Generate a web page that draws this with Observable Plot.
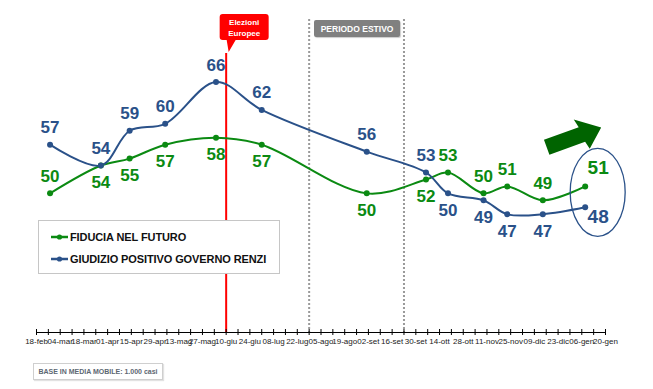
<!DOCTYPE html>
<html><head><meta charset="utf-8">
<script src="https://cdn.jsdelivr.net/npm/d3@7"></script>
<script src="https://cdn.jsdelivr.net/npm/@observablehq/plot@0.6"></script>
<style>
body{margin:0;background:#fff;font-family:"Liberation Sans",Arial,sans-serif;}
#wrap{position:relative;width:653px;height:389px;overflow:hidden;}
.legend{position:absolute;left:38px;top:220px;width:242px;height:54px;border:1px solid #c6c6c6;background:#fff;box-sizing:border-box;}
.legend .item{position:absolute;left:11px;height:14px;display:flex;align-items:center;font-weight:bold;font-size:11px;color:#111;white-space:nowrap;letter-spacing:-0.1px;}
.legend svg{margin-right:1px;}
.note{position:absolute;left:33px;top:363px;width:130px;height:17px;border:1px solid #cfcfcf;box-shadow:1px 1px 1px #e2e2e2;font-size:7px;font-weight:bold;color:#5d6772;display:flex;align-items:center;justify-content:center;box-sizing:border-box;white-space:nowrap;}
.estivo{position:absolute;top:20px;height:17px;background:#808080;border-radius:2px;color:#fff;font-weight:bold;font-size:8.5px;display:flex;align-items:center;justify-content:center;box-shadow:1px 1px 1px #ccc;white-space:nowrap;}
</style></head><body><div id="wrap"></div>
<script>
// ---- data ----
const dates = ["2014-02-26","2014-03-28","2014-04-14","2014-05-05","2014-06-04","2014-07-01","2014-09-01","2014-10-06","2014-10-19","2014-11-09","2014-11-23","2014-12-14","2015-01-08"];
const fiducia  = [50,54,55,57,58,57,50,52,53,50,51,49,51];
const giudizio = [57,54,59,60,66,62,56,53,50,49,47,47,48];
const seriesNames = ["FIDUCIA NEL FUTURO","GIUDIZIO POSITIVO GOVERNO RENZI"];
const tickDates = ["2014-02-18","2014-03-04","2014-03-18","2014-04-01","2014-04-15","2014-04-29","2014-05-13","2014-05-27","2014-06-10","2014-06-24","2014-07-08","2014-07-22","2014-08-05","2014-08-19","2014-09-02","2014-09-16","2014-09-30","2014-10-14","2014-10-28","2014-11-11","2014-11-25","2014-12-09","2014-12-23","2015-01-06","2015-01-20"];
const tickLabels = ["18-feb","04-mar","18-mar","01-apr","15-apr","29-apr","13-mag","27-mag","10-giu","24-giu","08-lug","22-lug","05-ago","19-ago","02-set","16-set","30-set","14-ott","28-ott","11-nov","25-nov","09-dic","23-dic","06-gen","20-gen"];
const electionDate = "2014-06-10";
const summerDates = ["2014-07-29","2014-09-23"];

// ---- build ----
const parse = d3.utcParse("%Y-%m-%d");
const GREEN = "#0b8a12", BLUE = "#2a5189";
const rows = [];
dates.forEach((d, i) => {
  rows.push({date: parse(d), value: fiducia[i], s: 0});
  rows.push({date: parse(d), value: giudizio[i], s: 1});
});
const last = dates.length - 1;
rows.forEach(r => {
  const i = dates.findIndex(d => +parse(d) === +r.date);
  const mine = r.s === 0 ? fiducia[i] : giudizio[i];
  const other = r.s === 0 ? giudizio[i] : fiducia[i];
  r.pos = i === last ? (r.s === 0 ? "lastUp" : "lastDown")
        : (i === 0 || mine > other || (mine === other && r.s === 1)) ? "above" : "below";
});
const tickMap = new Map(tickDates.map((d, i) => [+parse(d), tickLabels[i]]));
const t0 = parse(tickDates[0]), t1 = parse(tickDates[tickDates.length - 1]);
const weeks = d3.utcDay.range(t0, d3.utcDay.offset(t1, 1), 7);
const col = s => s === 0 ? GREEN : BLUE;
const labelStyle = {x: "date", y: "value", text: d => String(d.value), fill: d => col(d.s),
  fontSize: 17, fontWeight: "bold", fontFamily: "Liberation Sans", letterSpacing: "-0.5px"};

const plot = Plot.plot({
  width: 653, height: 389,
  marginLeft: 36, marginRight: 48, marginTop: 12, marginBottom: 57,
  style: {fontFamily: "Liberation Sans", fontSize: "8px", background: "transparent"},
  x: {type: "utc", domain: [t0, t1]},
  y: {domain: [30, 76], axis: null},
  color: {type: "identity"},
  marks: [
    Plot.ruleX(summerDates.map(parse), {x: d => d, stroke: "#9a9a9a", strokeWidth: 2, strokeDasharray: "2,2", insetTop: 7}),
    Plot.ruleX([parse(electionDate)], {x: d => d, stroke: "#ff0000", strokeWidth: 2, insetTop: 41}),
    Plot.ruleY([30], {stroke: "#000", strokeWidth: 1}),
    Plot.ruleX(weeks, {x: d => d, y1: 30, y2: 30, insetTop: -3, insetBottom: -3, stroke: "#000", strokeWidth: 1}),
    Plot.axisX({ticks: tickDates.map(parse), tickFormat: d => tickMap.get(+d), tickSize: 0, tickPadding: 6, fill: "#222", fontSize: 8, letterSpacing: "-0.35px"}),
    Plot.line(rows, {x: "date", y: "value", z: "s", stroke: d => col(d.s), strokeWidth: 2, curve: "catmull-rom"}),
    Plot.dot(rows, {x: "date", y: "value", r: 3, fill: d => col(d.s), stroke: "none"}),
    Plot.text(rows.filter(r => r.pos === "above"), {...labelStyle, dy: -17}),
    Plot.text(rows.filter(r => r.pos === "below"), {...labelStyle, dy: 17}),
    Plot.text(rows.filter(r => r.pos === "lastUp"), {...labelStyle, dx: 13, dy: -19, fontSize: 19}),
    Plot.text(rows.filter(r => r.pos === "lastDown"), {...labelStyle, dx: 13, dy: 10, fontSize: 19})
  ]
});
const wrap = document.getElementById("wrap");
wrap.appendChild(plot);

const xs = plot.scale("x"), ys = plot.scale("y");
const svg = d3.select(plot);

// election callout
const ex = xs.apply(parse(electionDate));
const L = ex - 6, R = ex + 43, T = 14, B = 40, r = 3;
svg.append("path")
  .attr("d", `M${L + r},${T} H${R - r} Q${R},${T} ${R},${T + r} V${B - r} Q${R},${B} ${R - r},${B} H${ex + 10} L${ex + 3},${B + 12} L${ex + 1},${B} H${L + r} Q${L},${B} ${L},${B - r} V${T + r} Q${L},${T} ${L + r},${T} Z`)
  .attr("fill", "#ff0000");
[["Elezioni", 23], ["Europee", 34]].forEach(([t, yy]) => {
  svg.append("text").attr("x", ex + 18.5).attr("y", yy).attr("text-anchor", "middle")
    .attr("dominant-baseline", "middle").attr("fill", "#fff").attr("font-size", "8px")
    .attr("font-weight", "bold").attr("font-family", "Liberation Sans").text(t);
});

// ellipse round last values
const lx = xs.apply(parse(dates[last]));
const cy = (ys.apply(fiducia[last]) + ys.apply(giudizio[last])) / 2 - 4;
const cx = lx + 13;
svg.append("ellipse").attr("cx", cx).attr("cy", cy).attr("rx", 27.5).attr("ry", 44)
  .attr("fill", "none").attr("stroke", BLUE).attr("stroke-width", 1.3);

// arrow
const ang = -20;
const ax = cx - 51, ay = cy - 45;
svg.append("polygon")
  .attr("points", [[0,-8],[37,-8],[35,-17],[58,0],[40,16],[38,8],[0,8]].map(p => p.join(",")).join(" "))
  .attr("transform", `translate(${ax},${ay}) rotate(${ang})`)
  .attr("fill", "#006400");

// periodo estivo
const s1 = xs.apply(parse(summerDates[0])), s2 = xs.apply(parse(summerDates[1]));
const est = document.createElement("div");
est.className = "estivo";
est.style.left = (s1 + 5) + "px";
est.style.width = (s2 - s1 - 8) + "px";
est.textContent = "PERIODO ESTIVO";
wrap.appendChild(est);

// legend
const leg = document.createElement("div");
leg.className = "legend";
seriesNames.forEach((name, s) => {
  const it = document.createElement("div");
  it.className = "item";
  it.style.top = (s === 0 ? 9 : 31) + "px";
  it.innerHTML = `<svg width="19" height="8"><line x1="1" y1="4" x2="18" y2="4" stroke="${col(s)}" stroke-width="2.5"/><circle cx="9.5" cy="4" r="2.6" fill="${col(s)}"/></svg>`;
  const sp = document.createElement("span");
  sp.textContent = name;
  it.appendChild(sp);
  leg.appendChild(it);
});
wrap.appendChild(leg);

// note
const note = document.createElement("div");
note.className = "note";
note.textContent = "BASE IN MEDIA MOBILE: 1.000 casi";
wrap.appendChild(note);
</script></body></html>
